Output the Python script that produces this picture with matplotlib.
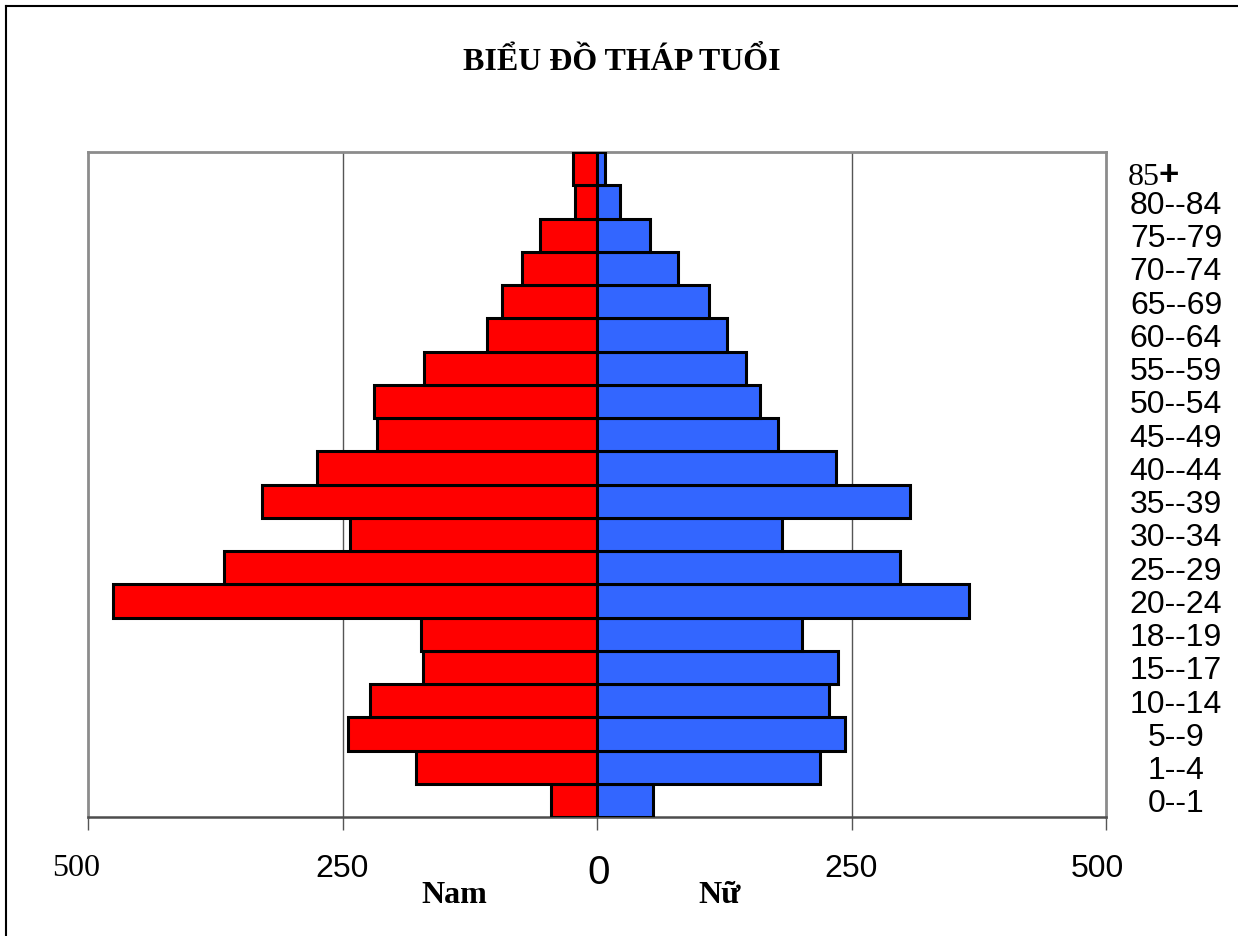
import matplotlib
matplotlib.use("Agg")
import matplotlib.pyplot as plt
from matplotlib.lines import Line2D
from matplotlib.transforms import blended_transform_factory, offset_copy
import numpy as np

# Age groups, youngest first (bottom of the pyramid)
age_groups = ["0--1", "1--4", "5--9", "10--14", "15--17", "18--19", "20--24",
              "25--29", "30--34", "35--39", "40--44", "45--49", "50--54",
              "55--59", "60--64", "65--69", "70--74", "75--79", "80--84", "85+"]
male = [45, 178, 245, 223, 171, 173, 475, 366, 243, 329, 275, 216, 219,
        170, 108, 93, 74, 56, 22, 24]
female = [55, 219, 244, 228, 237, 201, 365, 298, 182, 307, 235, 178, 160,
          146, 128, 110, 80, 52, 23, 8]

tick_values = [-500, -250, 0, 250, 500]
tick_labels = ["500", "250", "0", "250", "500"]

fig = plt.figure(figsize=(12.38, 9.37), dpi=100)
ax = fig.add_axes([88 / 1238, 1 - 818 / 937, (1106 - 88) / 1238, (818 - 153) / 937])

y = np.arange(len(age_groups))
ax.barh(y, -np.array(male), height=1.0, color="#FF0000", edgecolor="black",
        linewidth=2.2, zorder=3)
ax.barh(y, female, height=1.0, color="#3366FF", edgecolor="black",
        linewidth=2.2, zorder=3)

ax.set_xlim(-500, 500)
ax.set_ylim(-0.5, len(age_groups) - 0.5)

# vertical gridlines
for v in (-250, 250):
    ax.axvline(v, color="#555555", linewidth=1.0, zorder=1)

# frame
for side in ("top", "left", "right"):
    ax.spines[side].set_color("#8c8c8c")
    ax.spines[side].set_linewidth(2)
ax.spines["bottom"].set_color("#4d4d4d")
ax.spines["bottom"].set_linewidth(1.8)

ax.set_yticks([])
ax.set_xticks(tick_values)
ax.set_xticklabels([])
ax.tick_params(axis="x", direction="out", length=9, width=1, color="#555555")

# x tick labels
trans_x = blended_transform_factory(ax.transData, fig.transFigure)
for val, lab in zip(tick_values, tick_labels):
    if val == -500:
        ax.text(val - 12, 1 - 869 / 937, lab, transform=trans_x, ha="center",
                va="center", fontsize=23, family="Liberation Serif")
    elif val == 0:
        ax.text(val + 2, 1 - 873 / 937, lab, transform=trans_x, ha="center",
                va="center", fontsize=29, family="Liberation Sans")
    elif val == 500:
        ax.text(val - 8, 1 - 869 / 937, lab, transform=trans_x, ha="center",
                va="center", fontsize=23, family="Liberation Sans")
    else:
        ax.text(val, 1 - 869 / 937, lab, transform=trans_x, ha="center",
                va="center", fontsize=23, family="Liberation Sans")

# age group labels on the right, nudged a few pixels down
trans_y = offset_copy(blended_transform_factory(fig.transFigure, ax.transData),
                      fig=fig, y=-3, units="dots")
for i, lab in enumerate(age_groups):
    if lab.endswith("+"):
        ax.text(1160 / 1238, i - 0.15, lab[:-1], transform=trans_y, ha="right",
                va="center", fontsize=23, family="Liberation Serif")
        ax.text(1159 / 1238, i - 0.1, "+", transform=trans_y, ha="left",
                va="center", fontsize=25, fontweight="bold",
                family="Liberation Sans")
    else:
        ax.text(1176 / 1238, i, lab, transform=trans_y, ha="center",
                va="center", fontsize=23, family="Liberation Sans")

# side captions
fig.text(454 / 1238, 1 - 896 / 937, "Nam", ha="center", va="center",
         fontsize=23, fontweight="bold", family="Liberation Serif")
fig.text(720 / 1238, 1 - 896 / 937, "Nữ", ha="center", va="center",
         fontsize=23, fontweight="bold", family="Liberation Serif")

# title
fig.text(622 / 1238, 1 - 63 / 937, "BIỂU ĐỒ THÁP TUỔI", ha="center",
         va="center", fontsize=23, fontweight="bold", family="Liberation Serif")

# outer border (top and left edges)
fig.add_artist(Line2D([6 / 1238, 6 / 1238], [0, 1 - 7 / 937], color="black",
                      linewidth=1.5, transform=fig.transFigure))
fig.add_artist(Line2D([6 / 1238, 1], [1 - 7 / 937, 1 - 7 / 937], color="black",
                      linewidth=1.5, transform=fig.transFigure))

fig.savefig("out.png", dpi=100)
